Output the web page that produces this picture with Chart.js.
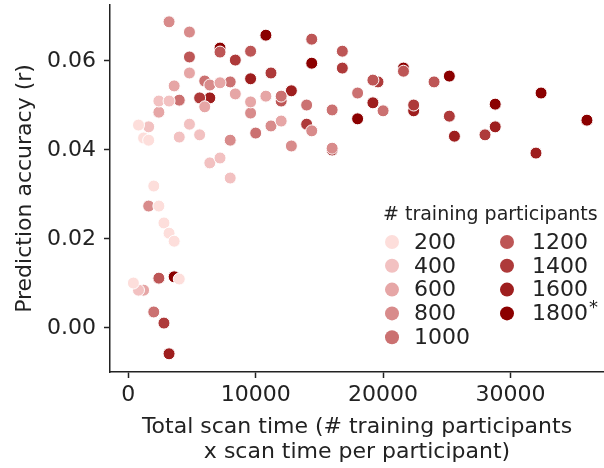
<!DOCTYPE html>
<html lang="en">
<head>
    <meta charset="UTF-8">
    <title>Prediction accuracy vs total scan time</title>
    <script src="https://cdn.jsdelivr.net/npm/chart.js"></script>
    <style>
        body {
            margin: 0;
            padding: 0;
            background: #fff;
        }
        .wrap {
            width: 604px;
            height: 468px;
            position: relative;
        }
    </style>
</head>
<body>
    <div class="wrap">
        <canvas id="scanChart"></canvas>
    </div>

    <script>
        // number of training participants (hue groups)
        const participants = [200, 400, 600, 800, 1000, 1200, 1400, 1600, 1800];

        // total scan time (x) for each group
        const total200 = [400, 800, 1200, 1600, 2000, 2400, 2800, 3200, 3600, 4000];
        const total400 = [800, 1600, 2400, 3200, 4000, 4800, 5600, 6400, 7200, 8000];
        const total600 = [1200, 2400, 3600, 4800, 6000, 7200, 8400, 9600, 10800, 12000];
        const total800 = [1600, 3200, 4800, 6400, 8000, 9600, 11200, 12800, 14400, 16000];
        const total1000 = [2000, 4000, 6000, 8000, 10000, 12000, 14000, 16000, 18000, 20000];
        const total1200 = [2400, 4800, 7200, 9600, 12000, 14400, 16800, 19200, 21600, 24000];
        const total1400 = [2800, 5600, 8400, 11200, 14000, 16800, 19600, 22400, 25200, 28000];
        const total1600 = [3200, 6400, 9600, 12800, 16000, 19200, 22400, 25600, 28800, 32000];
        const total1800 = [3600, 7200, 10800, 14400, 18000, 21600, 25200, 28800, 32400, 36000];

        // prediction accuracy (y) for each group
        const acc200 = [0.0101, 0.0456, 0.0427, 0.0422, 0.0319, 0.0274, 0.0236, 0.0213, 0.0195, 0.0110];
        const acc400 = [0.0085, 0.0452, 0.0510, 0.0510, 0.0429, 0.0458, 0.0434, 0.0371, 0.0382, 0.0337];
        const acc600 = [0.0085, 0.0485, 0.0544, 0.0573, 0.0497, 0.0551, 0.0526, 0.0508, 0.0521, 0.0465];
        const acc800 = [0.0274, 0.0688, 0.0665, 0.0546, 0.0422, 0.0483, 0.0454, 0.0409, 0.0443, 0.0404];
        const acc1000 = [0.0036, 0.0512, 0.0555, 0.0553, 0.0438, 0.0521, 0.0501, 0.0490, 0.0528, 0.0488];
        const acc1200 = [0.0112, 0.0609, 0.0620, 0.0622, 0.0510, 0.0649, 0.0622, 0.0557, 0.0577, 0.0553];
        const acc1400 = [0.0011, 0.0517, 0.0602, 0.0573, 0.0458, 0.0584, 0.0553, 0.0501, 0.0476, 0.0434];
        const acc1600 = [-0.0058, 0.0517, 0.0560, 0.0533, 0.0400, 0.0506, 0.0488, 0.0431, 0.0452, 0.0393];
        const acc1800 = [0.0115, 0.0629, 0.0658, 0.0595, 0.0470, 0.0584, 0.0566, 0.0503, 0.0528, 0.0467];

        const xTicks = [0, 10000, 20000, 30000];
        const yTicks = [0.00, 0.02, 0.04, 0.06];

        const colors = ['#fddedb', '#f2c1c1', '#e6a6a6', '#d88b8b', '#cb7171', '#bd5656', '#ae3a3a', '#9e1e1e', '#8b0000'];

        const totals = [total200, total400, total600, total800, total1000, total1200, total1400, total1600, total1800];
        const accs = [acc200, acc400, acc600, acc800, acc1000, acc1200, acc1400, acc1600, acc1800];

        const datasets = participants.map((n, i) => ({
            label: String(n),
            data: totals[i].map((x, j) => ({ x: x, y: accs[i][j] })),
            backgroundColor: colors[i],
            borderColor: '#ffffff',
            borderWidth: 1,
            pointRadius: 6,
            pointHoverRadius: 6
        }));

        const FONT = 'DejaVu Sans';
        const INK = '#222222';

        // two-column legend like the seaborn one
        const legendPlugin = {
            id: 'hueLegend',
            afterDraw(chart) {
                const ctx = chart.ctx;
                ctx.save();
                ctx.fillStyle = INK;
                ctx.textBaseline = 'middle';
                ctx.textAlign = 'left';
                ctx.font = '19px "' + FONT + '"';
                ctx.fillText('# training participants', 383, 215);

                ctx.font = '22px "' + FONT + '"';
                chart.data.datasets.forEach((ds, i) => {
                    const col = i < 5 ? 0 : 1;
                    const row = i < 5 ? i : i - 5;
                    const mx = col === 0 ? 392 : 507;
                    const tx = col === 0 ? 414 : 532;
                    const my = 242 + row * 23.8;
                    ctx.beginPath();
                    ctx.arc(mx, my, 7, 0, Math.PI * 2);
                    ctx.fillStyle = ds.backgroundColor;
                    ctx.fill();
                    ctx.fillStyle = INK;
                    ctx.fillText(ds.label, tx, my + 1);
                    if (ds.label === '1800') {
                        const w = ctx.measureText(ds.label).width;
                        ctx.font = '18px "' + FONT + '"';
                        ctx.fillText('*', tx + w + 1, my - 5);
                        ctx.font = '22px "' + FONT + '"';
                    }
                });
                ctx.restore();
            }
        };

        // keep the plot box fixed: no extra room for edge tick labels
        function noEdgePadding(scale) {
            scale.paddingTop = 0;
            scale.paddingBottom = 0;
            scale.paddingLeft = 0;
            scale.paddingRight = 0;
        }

        const ctx = document.getElementById('scanChart').getContext('2d');
        new Chart(ctx, {
            type: 'scatter',
            data: { datasets: datasets },
            plugins: [legendPlugin],
            options: {
                responsive: true,
                maintainAspectRatio: false,
                animation: false,
                layout: { autoPadding: false, padding: { top: 5, left: 0, right: 0, bottom: 0 } },
                plugins: {
                    legend: { display: false },
                    tooltip: { enabled: false }
                },
                scales: {
                    x: {
                        type: 'linear',
                        min: -1436,
                        max: 37340,
                        afterFit: (scale) => { scale.height = 96; noEdgePadding(scale); },
                        afterBuildTicks: (scale) => { scale.ticks = xTicks.map(v => ({ value: v })); },
                        grid: { display: true, drawOnChartArea: false, drawTicks: true, tickLength: 6, tickColor: INK, tickWidth: 1.5 },
                        border: { display: true, color: INK, width: 1.5 },
                        ticks: {
                            color: INK,
                            font: { family: FONT, size: 22 },
                            padding: 4,
                            maxRotation: 0,
                            callback: (v) => String(v)
                        },
                        title: {
                            display: true,
                            text: ['Total scan time (# training participants', 'x scan time per participant)'],
                            color: INK,
                            font: { family: FONT, size: 22, lineHeight: 1.14 },
                            padding: { top: 0, bottom: 3 }
                        }
                    },
                    y: {
                        type: 'linear',
                        min: -0.00989,
                        max: 0.07258,
                        afterFit: (scale) => { scale.width = 110; noEdgePadding(scale); },
                        afterBuildTicks: (scale) => { scale.ticks = yTicks.map(v => ({ value: v })); },
                        grid: { display: true, drawOnChartArea: false, drawTicks: true, tickLength: 6, tickColor: INK, tickWidth: 1.5 },
                        border: { display: true, color: INK, width: 1.5 },
                        ticks: {
                            color: INK,
                            font: { family: FONT, size: 22 },
                            padding: 8,
                            callback: (v) => v.toFixed(2)
                        },
                        title: {
                            display: true,
                            text: 'Prediction accuracy (r)',
                            color: INK,
                            font: { family: FONT, size: 22, lineHeight: 1.14 },
                            padding: { top: 13, bottom: 0 }
                        }
                    }
                }
            }
        });
    </script>
</body>
</html>
